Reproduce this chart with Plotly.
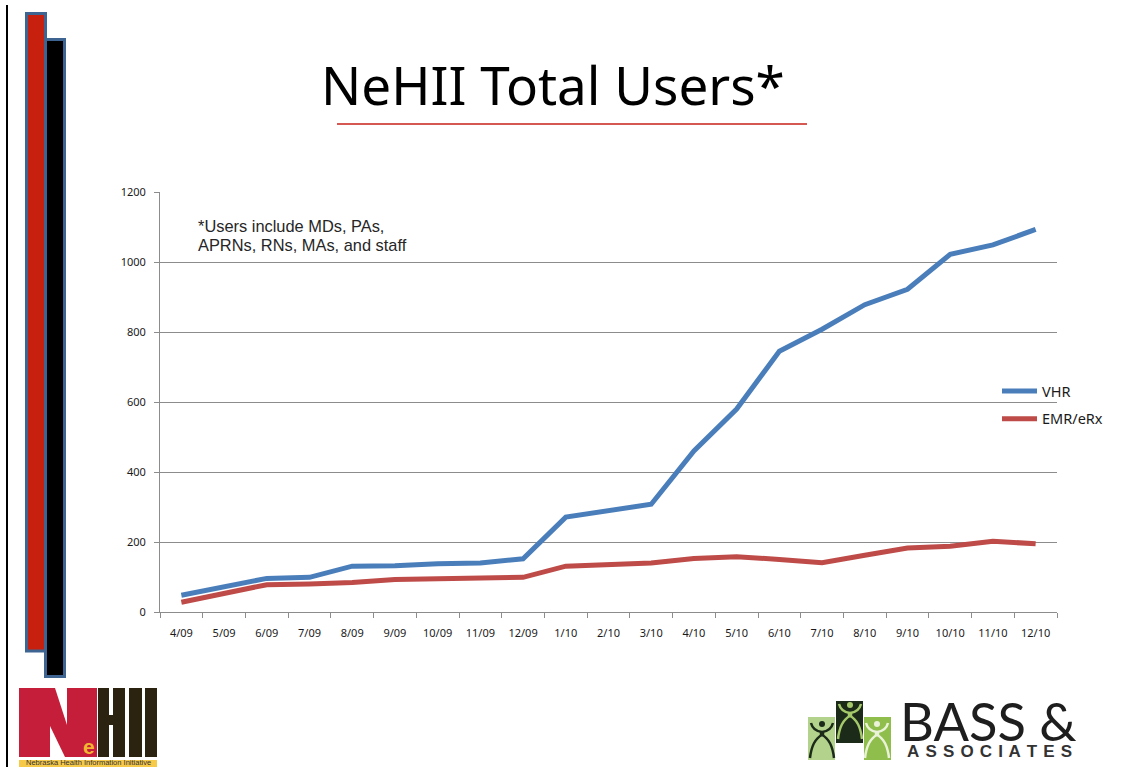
import plotly.graph_objects as go

W, H = 1130, 767
months = ["4/09","5/09","6/09","7/09","8/09","9/09","10/09","11/09","12/09","1/10","2/10","3/10",
          "4/10","5/10","6/10","7/10","8/10","9/10","10/10","11/10","12/10"]
vhr = [48,73,96,99,131,132,138,140,152,271,288,308,460,580,745,808,878,922,1022,1049,1093]
emr = [28,52,78,80,84,93,95,97,99,131,135,140,153,158,150,141,162,183,188,202,195]
y_ticks = [0,200,400,600,800,1000,1200]

def px(x): return x / W
def py(y): return 1 - y / H

def rect(x0, y0, x1, y1, fill, line=None, lw=0):
    return dict(type="rect", xref="paper", yref="paper", x0=px(x0), x1=px(x1), y0=py(y0), y1=py(y1),
                fillcolor=fill, line=dict(color=line or fill, width=lw))

def seg(x0, y0, x1, y1, color, lw):
    return dict(type="line", xref="paper", yref="paper", x0=px(x0), x1=px(x1), y0=py(y0), y1=py(y1),
                line=dict(color=color, width=lw))

def path(points, fill):
    d = "M " + " L ".join(f"{px(a):.5f},{py(b):.5f}" for a, b in points) + " Z"
    return dict(type="path", xref="paper", yref="paper", path=d, fillcolor=fill, line=dict(width=0))

def curve(p0, c1, p1, c2, p2, color, lw):
    f = lambda p: f"{px(p[0]):.5f},{py(p[1]):.5f}"
    d = f"M {f(p0)} Q {f(c1)} {f(p1)} Q {f(c2)} {f(p2)}"
    return dict(type="path", xref="paper", yref="paper", path=d,
                fillcolor="rgba(0,0,0,0)", line=dict(color=color, width=lw))

def figure(cx, top, color, lw=2.5):
    return [
        dict(type="circle", xref="paper", yref="paper", x0=px(cx-3), x1=px(cx+3), y0=py(top+7), y1=py(top+1),
             fillcolor=color, line=dict(width=0)),
        curve((cx-11, top+3), (cx-9, top+11), (cx, top+12), (cx+9, top+11), (cx+11, top+3), color, lw),
        curve((cx-12, top+38), (cx-10, top+20), (cx, top+15), (cx+10, top+20), (cx+12, top+38), color, lw),
        seg(cx, top+11, cx, top+16, color, lw+2),
    ]

shapes = [
    seg(7, 5, 7, 767, "#000000", 2),
    rect(45.5, 39.5, 64.5, 676.5, "#000000", "#3E6491", 3),
    rect(26.5, 13.5, 45.5, 651, "#C7200F", "#3E6491", 3),
    seg(337, 124, 807, 124, "#C8201A", 1.5),
    # NeHII logo
    rect(19, 688, 97, 757, "#C41E3A"),
    path([(55, 688), (67, 688), (67, 725)], "#FFFFFF"),
    path([(50, 726), (50, 757), (65, 757)], "#FFFFFF"),
    rect(98, 688, 109, 757, "#2B2310"),
    rect(109, 715, 113, 725, "#2B2310"),
    rect(113, 688, 125, 757, "#2B2310"),
    rect(129, 688, 142, 757, "#2B2310"),
    rect(145, 688, 157, 757, "#2B2310"),
    rect(19, 760, 157, 767, "#F7C948"),
    # Bass logo
    rect(808, 717, 835, 760, "#B3D38C"),
    rect(836, 701, 863, 743, "#1C2A1A"),
    rect(864, 717, 891, 760, "#8FBE4C"),
] + figure(822, 720, "#1C2A1A") + figure(850, 701, "#A5C96A") + figure(877, 720, "#EAF3D8")

annotations = [
    dict(text="NeHII Total Users*", xref="paper", yref="paper", x=px(552.5), y=py(85), showarrow=False,
         font=dict(family="Noto Sans", size=53, color="#000000"), xanchor="center", yanchor="middle"),
    dict(text="*Users include MDs, PAs,", xref="paper", yref="paper",
         x=px(196), y=py(226), showarrow=False, align="left", xanchor="left", yanchor="middle",
         font=dict(family="Liberation Sans", size=16.4, color="#262626")),
    dict(text="APRNs, RNs, MAs, and staff", xref="paper", yref="paper",
         x=px(196), y=py(245), showarrow=False, align="left", xanchor="left", yanchor="middle",
         font=dict(family="Liberation Sans", size=16.4, color="#262626")),
    dict(text="<b>e</b>", xref="paper", yref="paper", x=px(89), y=py(746), showarrow=False,
         font=dict(family="Liberation Sans", size=21, color="#F2B632"), xanchor="center", yanchor="middle"),
    dict(text="Nebraska Health Information Initiative", xref="paper", yref="paper", x=px(88), y=py(762.5),
         showarrow=False, font=dict(family="Liberation Sans", size=7.5, color="#333333"),
         xanchor="center", yanchor="middle"),
    dict(text="BASS &amp;", xref="paper", yref="paper", x=px(988), y=py(720), showarrow=False,
         font=dict(family="Lato", size=52.5, color="#1E1E1E"), xanchor="center", yanchor="middle"),
    dict(text="<b>A\u200a S\u200a S\u200a O\u200a C\u200a I\u200a A\u200a T\u200a E\u200a S</b>", xref="paper", yref="paper",
         x=px(989.5), y=py(751.5), showarrow=False,
         font=dict(family="Liberation Sans", size=17, color="#333333"), xanchor="center", yanchor="middle"),
]

fig = go.Figure()
fig.add_trace(go.Scatter(x=months, y=vhr, mode="lines", name="VHR", legendgroup="a",
                         line=dict(color="#4A7EBB", width=5)))
fig.add_trace(go.Scatter(x=months, y=emr, mode="lines", name="EMR/eRx", legendgroup="b",
                         line=dict(color="#BE4B48", width=5)))

fig.update_layout(
    width=W, height=H, autosize=False, paper_bgcolor="#FFFFFF", plot_bgcolor="#FFFFFF",
    margin=dict(l=0, r=0, t=0, b=0),
    font=dict(family="Noto Sans", color="#1A1A1A"),
    shapes=shapes, annotations=annotations,
    legend=dict(x=px(997), y=py(375), xanchor="left", yanchor="top", xref="paper", yref="paper",
                font=dict(family="Noto Sans", size=14.5, color="#1A1A1A"), itemwidth=35,
                tracegroupgap=6, bgcolor="rgba(0,0,0,0)", traceorder="grouped"),
    xaxis=dict(type="category", categoryorder="array", categoryarray=months, tickson="boundaries",
               domain=[px(160), px(1057)], range=[-0.5, 20.5], automargin=False,
               ticks="outside", ticklen=5, tickcolor="#8C8C8C", showline=True, linecolor="#8C8C8C",
               showgrid=False, tickfont=dict(family="Noto Sans", size=11, color="#1A1A1A"), tickangle=0,
               zeroline=False, ticklabelstandoff=11),
    yaxis=dict(range=[0, 1200], tickvals=y_ticks, domain=[py(612), py(192)], automargin=False,
               ticks="outside", ticklen=5, tickcolor="#8C8C8C", ticklabelstandoff=6,
               showline=True, linecolor="#8C8C8C", gridcolor="#8C8C8C", gridwidth=1, zeroline=False,
               tickfont=dict(family="Noto Sans", size=11, color="#1A1A1A")),
)

fig.write_html("out.html", config=dict(displayModeBar=False),
               post_script="document.body.style.margin='0';document.documentElement.style.overflow='hidden';")
